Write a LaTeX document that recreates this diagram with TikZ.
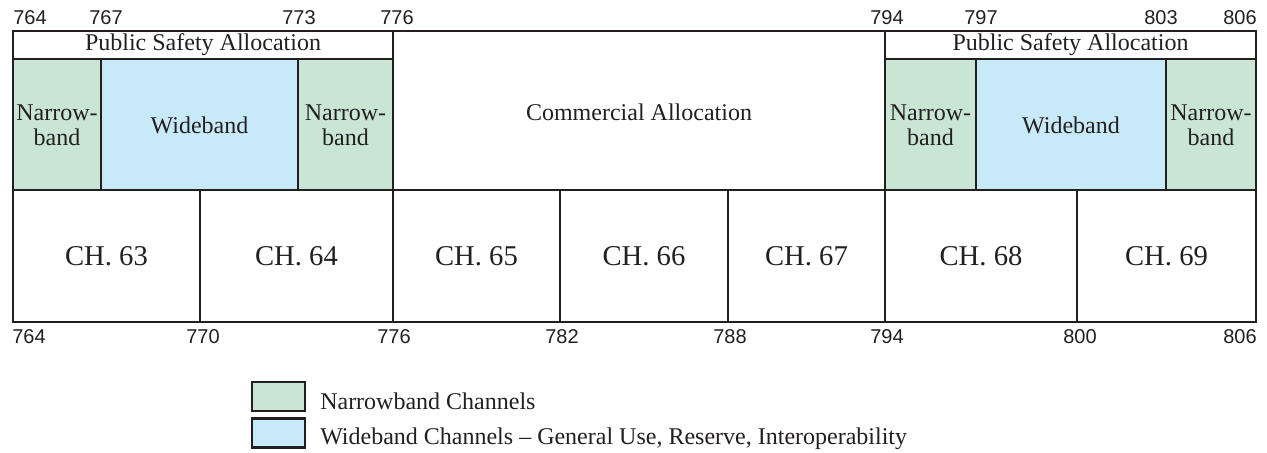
\documentclass[tikz,border=0pt]{standalone}
\usepackage{fontspec}
\setmainfont{Liberation Serif}
\newfontfamily\labelfont{Liberation Sans}
\definecolor{ink}{RGB}{35,31,32}
\definecolor{nbgreen}{RGB}{201,229,212}
\definecolor{wbblue}{RGB}{199,233,248}
\tikzset{
  thinline/.style={draw=ink, line width=0.95pt},
  thickline/.style={draw=ink, line width=2pt},
  celltext/.style={font=\fontsize{18}{18.5}\selectfont, text=ink, align=center, inner sep=0pt},
  chantext/.style={font=\fontsize{21.5}{24}\selectfont, text=ink, inner sep=0pt},
  freq/.style={font=\labelfont\fontsize{15}{18}\selectfont, text=ink, inner sep=0pt, anchor=base},
  keybox/.style={draw=ink, line width=1.9pt, minimum width=39.75pt, minimum height=22pt, inner sep=0pt},
  keytext/.style={font=\fontsize{18}{22}\selectfont, text=ink, inner sep=0pt, anchor=base west},
}
\begin{document}
\begin{tikzpicture}[x=0.75pt, y=-0.75pt]
\useasboundingbox (0,0) rectangle (1267,453);

% band fills
\fill[nbgreen] (13,59) rectangle (101,190);
\fill[wbblue]  (101,59) rectangle (298,190);
\fill[nbgreen] (298,59) rectangle (393,190);
\fill[nbgreen] (885,59) rectangle (976,190);
\fill[wbblue]  (976,59) rectangle (1166,190);
\fill[nbgreen] (1166,59) rectangle (1256,190);

% grid lines
\draw[thinline] (13,190) -- (1256,190);
\draw[thinline] (101,59) -- (101,190);
\draw[thinline] (298,59) -- (298,190);
\draw[thinline] (976,59) -- (976,190);
\draw[thinline] (1166,59) -- (1166,190);
\draw[thinline] (393,31) -- (393,322);
\draw[thinline] (885,31) -- (885,322);
\draw[thinline] (13,31) -- (13,322);
\draw[thinline] (1256,31) -- (1256,322);
\draw[thinline] (200,190) -- (200,322);
\draw[thinline] (560,190) -- (560,322);
\draw[thinline] (728,190) -- (728,322);
\draw[thinline] (1077,190) -- (1077,322);

% heavy frame lines
\draw[thickline] (13,31) -- (1256,31);
\draw[thickline] (12,322) -- (1257,322);
\draw[thickline] (13,31) rectangle (393,59);
\draw[thickline] (885,31) rectangle (1256,59);

% allocation headings
\node[celltext] (psaL) at (203,45) {Public Safety Allocation};
\node[celltext] (psaR) at (1070.5,45) {Public Safety Allocation};
\node[celltext] (comm) at (639,112) {Commercial Allocation};

% sub-bands
\node[celltext] (nb1) at (57,125) {Narrow-\\band};
\node[celltext] (wb1) at (199.5,125) {Wideband};
\node[celltext] (nb2) at (345.5,125) {Narrow-\\band};
\node[celltext] (nb3) at (930.5,125) {Narrow-\\band};
\node[celltext] (wb2) at (1071,125) {Wideband};
\node[celltext] (nb4) at (1211,125) {Narrow-\\band};

% TV channels
\node[chantext] (ch63) at (106.5,256) {CH. 63};
\node[chantext] (ch64) at (296.5,256) {CH. 64};
\node[chantext] (ch65) at (476.5,256) {CH. 65};
\node[chantext] (ch66) at (644,256) {CH. 66};
\node[chantext] (ch67) at (806.5,256) {CH. 67};
\node[chantext] (ch68) at (981,256) {CH. 68};
\node[chantext] (ch69) at (1166.5,256) {CH. 69};

% frequency marks, top
\node[freq, anchor=base west] (t764) at (13,25) {764};
\node[freq] (t767) at (106,25) {767};
\node[freq] (t773) at (299,25) {773};
\node[freq] (t776) at (397,25) {776};
\node[freq] (t794) at (887,25) {794};
\node[freq] (t797) at (981,25) {797};
\node[freq] (t803) at (1161,25) {803};
\node[freq, anchor=base east] (t806) at (1257,25) {806};

% frequency marks, bottom
\node[freq, anchor=base west] (b764) at (12,343) {764};
\node[freq] (b770) at (203,343) {770};
\node[freq] (b776) at (394,343) {776};
\node[freq] (b782) at (562,343) {782};
\node[freq] (b788) at (730,343) {788};
\node[freq] (b794) at (887,343) {794};
\node[freq] (b800) at (1080,343) {800};
\node[freq, anchor=base east] (b806) at (1257,343) {806};

% legend
\node[keybox, fill=nbgreen] (keyNB) at (278.5,396.5) {};
\node[keybox, fill=wbblue]  (keyWB) at (278.5,433) {};
\node[keytext] (txtNB) at (320,409) {Narrowband Channels};
\node[keytext] (txtWB) at (320,444) {Wideband Channels -- General Use, Reserve, Interoperability};
\end{tikzpicture}
\end{document}
